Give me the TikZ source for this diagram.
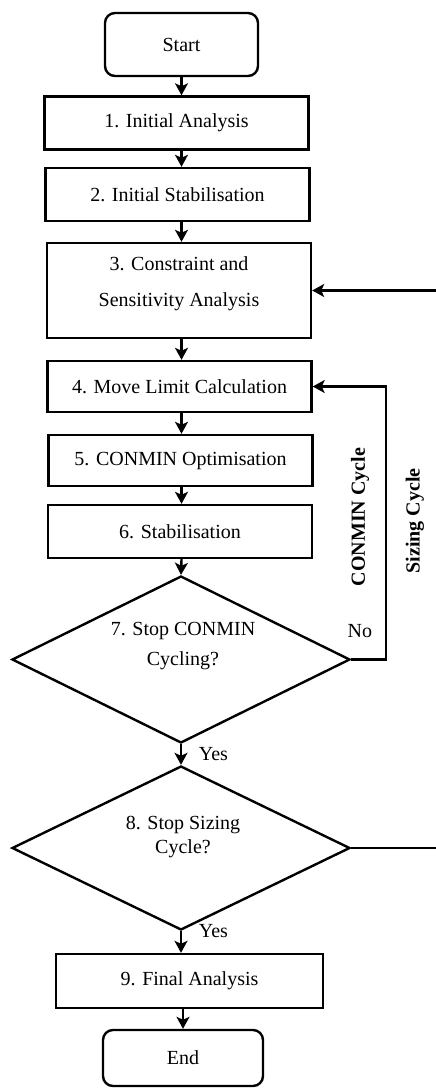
\documentclass[tikz,border=0pt]{standalone}
\usepackage{fontspec}
\setmainfont{Liberation Serif}        % police a chasse Times
\usetikzlibrary{shapes.geometric,     % losanges
           arrows.meta,               % pointes de fleches
           positioning}
\tikzset{
  boite/.style={draw,line width=1.2pt,minimum width=132pt,minimum height=26.5pt,
    inner sep=0pt,align=center},
  terminal/.style={boite,rounded corners=5pt},
  losange/.style={draw,diamond,line width=1.2pt,minimum width=169pt,inner sep=0pt},
  fleche/.style={line width=1.2pt,-{Stealth[length=6pt,width=6.5pt,inset=1.5pt]}},
  cycle/.style={rotate=90,font=\fontsize{10}{12}\selectfont\bfseries}
}

\begin{document}
\begin{tikzpicture}[x=0.5pt,y=-0.5pt,font=\fontsize{10}{12}\selectfont]
\useasboundingbox (0,0) rectangle (435,1089);
\node[terminal,minimum width=76.5pt,minimum height=31.5pt](S)at(181.5,44.5){Start};
\node[boite](A1)at(176.5,123){1. Initial Analysis};
\node[boite](A2)at(177.5,194.5){2. Initial Stabilisation};
\node[boite,minimum height=47.5pt](A3)at(179,290.5){};
\node[align=center](T3)at(179,284){3. Constraint and\\[6pt]Sensitivity Analysis};
\node[boite,minimum height=25.5pt](A4)at(179.5,386.5){4. Move Limit Calculation};
\node[boite,minimum height=25.5pt](A5)at(180.5,460.5){5. CONMIN Optimisation};
\node[boite](A6)at(180,531.5){6. Stabilisation};
\node[losange,minimum height=83.5pt](D7)at(181,659.5){};
\node[align=center](T7)at(183,646){7. Stop CONMIN\\[3pt]Cycling?};
\node[losange,minimum height=82pt](D8)at(181,848){};
\node[align=center](T8)at(183,837){8. Stop Sizing\\Cycle?};
\node[boite,minimum width=133.5pt,minimum height=27pt](A9)at(189.5,981){9. Final Analysis};
\node[terminal,minimum width=80pt,minimum height=28pt](E)at(183,1058){End};
\draw[fleche](S.south)--(S.south|-A1.north);
\draw[fleche](A1.south-|S)--(A2.north-|S);
\draw[fleche](A2.south-|S)--(A3.north-|S);
\draw[fleche](A3.south-|S)--(A4.north-|S);
\draw[fleche](A4.south-|S)--(A5.north-|S);
\draw[fleche](A5.south-|S)--(A6.north-|S);
\draw[fleche](A6.south-|S)--(D7.north);
\draw[fleche](D7.south)--node[right=5pt]{Yes}(D8.north);
\draw[fleche](D8.south)node[right=5pt]{Yes}--(D8.south|-A9.north);
\draw[fleche](A9.south-|E)--(E.north);
\draw[fleche](D7.east)--node[pos=0.25,above=7pt]{No}++(35,0)|-(A4.east);
\draw[fleche](D8.east)--++(95,0)|-(A3.east);
\node[cycle](CC)at(360,517){CONMIN Cycle};
\node[cycle](SC)at(415,521){Sizing Cycle};
\end{tikzpicture}
\end{document}
